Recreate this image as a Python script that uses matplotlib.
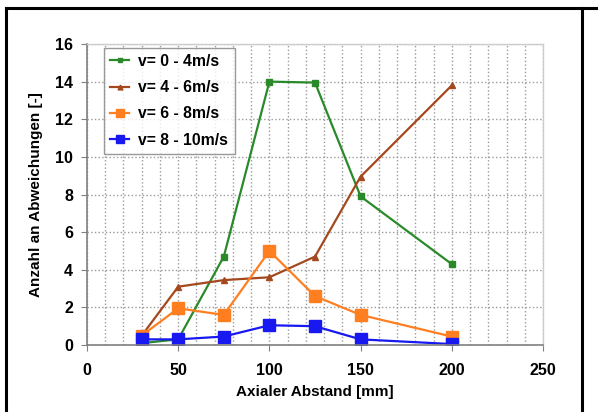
import matplotlib.pyplot as plt
from matplotlib.lines import Line2D

plt.rcParams['font.family'] = ['Liberation Sans', 'DejaVu Sans']
plt.rcParams['font.weight'] = 'bold'

abstand = [30, 50, 75, 100, 125, 150, 200]
v_0_4 = [0.1, 0.3, 4.7, 14.0, 13.95, 7.9, 4.3]
v_4_6 = [0.5, 3.1, 3.45, 3.6, 4.7, 8.95, 13.8]
v_6_8 = [0.5, 1.95, 1.6, 5.0, 2.6, 1.6, 0.45]
v_8_10 = [0.3, 0.3, 0.45, 1.05, 1.0, 0.3, 0.05]

labels = ['v= 0 - 4m/s', 'v= 4 - 6m/s', 'v= 6 - 8m/s', 'v= 8 - 10m/s']
colors = ['#2a8a2a', '#a4481e', '#ff7f20', '#1818f0']
markers = ['s', '^', 's', 's']
sizes = [5, 5, 8, 8]

fig = plt.figure(figsize=(5.98, 4.12), dpi=100)
fig.patch.set_facecolor('white')
ax = fig.add_axes([0.1455, 0.1626, 0.7625, 0.7306])

for y, lab, c, m, ms in zip([v_0_4, v_4_6, v_6_8, v_8_10], labels, colors, markers, sizes):
    ax.plot(abstand, y, color=c, marker=m, markersize=ms, linewidth=1.6, label=lab)

ax.set_xlim(0, 250)
ax.set_ylim(0, 16)
ax.set_xticks(range(0, 251, 50))
ax.set_yticks(range(0, 17, 2))
ax.set_xticks(range(0, 251, 10), minor=True)
ax.grid(True, which='major', axis='y', color='#9a9a9a', linestyle=':', linewidth=1)
ax.grid(True, which='both', axis='x', color='#9a9a9a', linestyle=':', linewidth=1)
ax.tick_params(which='minor', length=0)
ax.tick_params(which='major', length=4, color='#808080', labelsize=11.5, pad=6)
ax.tick_params(axis='x', pad=9)
for s in ['left', 'bottom']:
    ax.spines[s].set_color('#808080')
    ax.spines[s].set_linewidth(1.2)
for s in ['top', 'right']:
    ax.spines[s].set_color('#cccccc')
    ax.spines[s].set_linewidth(1)

ax.set_xlabel('Axialer Abstand [mm]', fontsize=11, fontweight='bold', labelpad=5)
ax.set_ylabel('Anzahl an Abweichungen [-]', fontsize=11, fontweight='bold', labelpad=9)

leg = ax.legend(loc='upper left', bbox_to_anchor=(0.037, 0.988), fontsize=11.3,
                frameon=True, fancybox=False, edgecolor='#808080',
                handlelength=1.2, handletextpad=0.6, borderpad=0.4,
                labelspacing=0.72, borderaxespad=0, markerscale=0.7)
leg.get_frame().set_linewidth(1)

# outer frame
fig.add_artist(Line2D([5.5 / 598, 5.5 / 598], [0, 1 - 7.5 / 412], color='black', linewidth=2.2))
fig.add_artist(Line2D([5.5 / 598, 1], [1 - 7.5 / 412, 1 - 7.5 / 412], color='black', linewidth=2.2))
fig.add_artist(Line2D([582 / 598, 582 / 598], [0, 1 - 7.5 / 412], color='black', linewidth=2.2))

fig.savefig('out.png', dpi=100)
